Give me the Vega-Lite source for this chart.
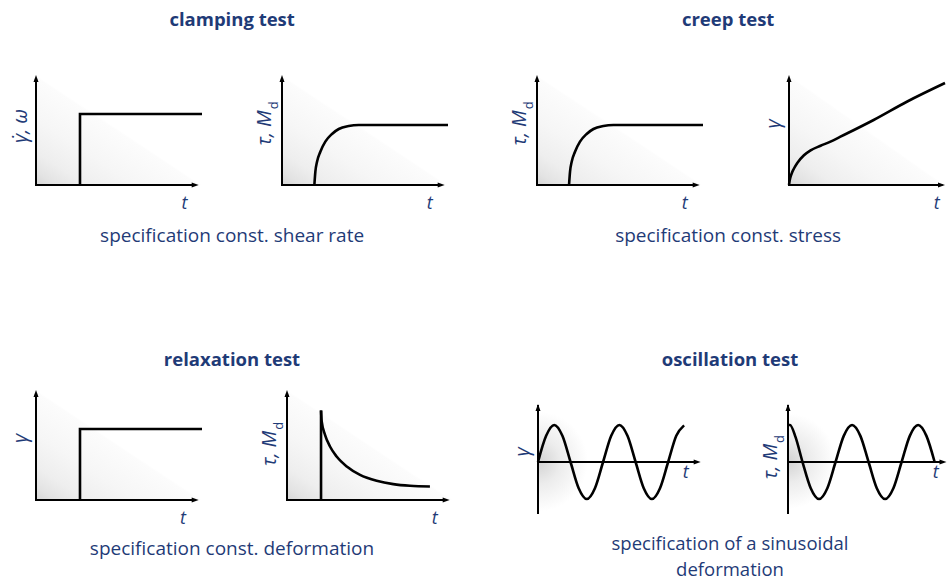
{
"$schema":"https://vega.github.io/schema/vega-lite/v6.json",
"autosize":{"type":"pad"},
"padding":{"left":10,"top":10,"right":0,"bottom":2},
"background":"#ffffff",
"config":{"view":{"stroke":null},"axis":{"disable":true}},
"datasets":{
"frame":[
{"panel":"p1","ylab":"\u03b3\u0307, \u03c9","ysub":"","xlab":"t"},
{"panel":"p2","ylab":"\u03c4, M","ysub":"d","xlab":"t"},
{"panel":"p3","ylab":"\u03c4, M","ysub":"d","xlab":"t"},
{"panel":"p4","ylab":"\u03b3","ysub":"","xlab":"t"},
{"panel":"p5","ylab":"\u03b3","ysub":"","xlab":"t"},
{"panel":"p6","ylab":"\u03c4, M","ysub":"d","xlab":"t"},
{"panel":"p7","ylab":"\u03b3","ysub":"","xlab":"t"},
{"panel":"p8","ylab":"\u03c4, M","ysub":"d","xlab":"t"}
],
"curves":[
{"panel":"p1","i":1,"t":0.265,"v":0},{"panel":"p1","i":2,"t":0.265,"v":0.645},{"panel":"p1","i":3,"t":1,"v":0.645},
{"panel":"p2","t":0.195,"v":0},{"panel":"p2","t":0.201,"v":0.121},{"panel":"p2","t":0.211,"v":0.212},{"panel":"p2","t":0.231,"v":0.303},{"panel":"p2","t":0.261,"v":0.394},{"panel":"p2","t":0.301,"v":0.464},{"panel":"p2","t":0.342,"v":0.509},{"panel":"p2","t":0.402,"v":0.536},{"panel":"p2","t":0.462,"v":0.545},{"panel":"p2","t":1,"v":0.545},
{"panel":"p3","t":0.193,"v":0},{"panel":"p3","t":0.199,"v":0.121},{"panel":"p3","t":0.209,"v":0.212},{"panel":"p3","t":0.229,"v":0.303},{"panel":"p3","t":0.259,"v":0.394},{"panel":"p3","t":0.299,"v":0.464},{"panel":"p3","t":0.34,"v":0.509},{"panel":"p3","t":0.4,"v":0.536},{"panel":"p3","t":0.46,"v":0.545},{"panel":"p3","t":1,"v":0.545},
{"panel":"p4","t":0,"v":0},{"panel":"p4","t":0.004,"v":0.04},{"panel":"p4","t":0.015,"v":0.1},{"panel":"p4","t":0.03,"v":0.15},{"panel":"p4","t":0.05,"v":0.2},{"panel":"p4","t":0.09,"v":0.27},{"panel":"p4","t":0.13,"v":0.315},{"panel":"p4","t":0.19,"v":0.357},{"panel":"p4","t":0.25,"v":0.394},{"panel":"p4","t":0.31,"v":0.439},{"panel":"p4","t":0.51,"v":0.591},{"panel":"p4","t":0.71,"v":0.757},{"panel":"p4","t":0.94,"v":0.927},
{"panel":"p5","i":1,"t":0.265,"v":0},{"panel":"p5","i":2,"t":0.265,"v":0.645},{"panel":"p5","i":3,"t":1,"v":0.645},
{"panel":"p6","seg":"a","t":0.205,"v":0},{"panel":"p6","seg":"a","t":0.205,"v":0.814},
{"panel":"p6","seg":"b","t":0.205,"v":0.814},{"panel":"p6","seg":"b","t":0.209,"v":0.714},{"panel":"p6","seg":"b","t":0.229,"v":0.593},{"panel":"p6","seg":"b","t":0.259,"v":0.486},{"panel":"p6","seg":"b","t":0.299,"v":0.395},{"panel":"p6","seg":"b","t":0.36,"v":0.305},{"panel":"p6","seg":"b","t":0.44,"v":0.229},{"panel":"p6","seg":"b","t":0.54,"v":0.175},{"panel":"p6","seg":"b","t":0.64,"v":0.144},{"panel":"p6","seg":"b","t":0.741,"v":0.129},{"panel":"p6","seg":"b","t":0.861,"v":0.123},
{"panel":"p7","t":0,"v":0},{"panel":"p7","t":0.049,"v":0.707},{"panel":"p7","t":0.098,"v":1},{"panel":"p7","t":0.147,"v":0.707},{"panel":"p7","t":0.196,"v":0},{"panel":"p7","t":0.245,"v":-0.707},{"panel":"p7","t":0.294,"v":-1},{"panel":"p7","t":0.343,"v":-0.707},{"panel":"p7","t":0.392,"v":0},{"panel":"p7","t":0.441,"v":0.707},{"panel":"p7","t":0.49,"v":1},{"panel":"p7","t":0.539,"v":0.707},{"panel":"p7","t":0.588,"v":0},{"panel":"p7","t":0.637,"v":-0.707},{"panel":"p7","t":0.686,"v":-1},{"panel":"p7","t":0.735,"v":-0.707},{"panel":"p7","t":0.784,"v":0},{"panel":"p7","t":0.833,"v":0.707},{"panel":"p7","t":0.88,"v":0.99},
{"panel":"p8","t":0,"v":1},{"panel":"p8","t":0.012,"v":1},{"panel":"p8","t":0.045,"v":0.68},{"panel":"p8","t":0.0875,"v":0},{"panel":"p8","t":0.137,"v":-0.707},{"panel":"p8","t":0.187,"v":-1},{"panel":"p8","t":0.237,"v":-0.707},{"panel":"p8","t":0.2865,"v":0},{"panel":"p8","t":0.336,"v":0.707},{"panel":"p8","t":0.386,"v":1},{"panel":"p8","t":0.436,"v":0.707},{"panel":"p8","t":0.4855,"v":0},{"panel":"p8","t":0.535,"v":-0.707},{"panel":"p8","t":0.585,"v":-1},{"panel":"p8","t":0.635,"v":-0.707},{"panel":"p8","t":0.6845,"v":0},{"panel":"p8","t":0.734,"v":0.707},{"panel":"p8","t":0.784,"v":1},{"panel":"p8","t":0.834,"v":0.707},{"panel":"p8","t":0.8835,"v":0}
]
},
"spacing":104,
"vconcat":[
{"spacing":56,"hconcat":[
{"title":{"text":"clamping test","anchor":"middle","offset":46,"font":"Open Sans","fontSize":18.5,"fontWeight":"bold","color":"#1f3b77"},
 "vconcat":[{"title":{"text":"specification const. shear rate","orient":"bottom","anchor":"middle","offset":14,"font":"Open Sans","fontSize":19,"fontWeight":"normal","color":"#1f3b77"},
 "spacing":47,"hconcat":[
 {"width":166,"height":110,"layer":[
  {"data":{"name":"frame"},"transform":[{"filter":"datum.panel=='p1'"}],"layer":[
   {"mark":{"type":"rect","fill":{"gradient":"linear","x1":0,"y1":1,"x2":1,"y2":0,"stops":[{"offset":0,"color":"#d6d6d6"},{"offset":0.06,"color":"#e3e3e3"},{"offset":0.15,"color":"#eeeeee"},{"offset":0.3,"color":"#f6f6f6"},{"offset":0.49,"color":"#fcfcfc"},{"offset":0.5,"color":"#ffffff"}]}},"encoding":{"x":{"datum":0,"scale":{"domain":[0,1],"nice":false}},"x2":{"datum":1},"y":{"datum":0,"scale":{"domain":[0,1],"nice":false}},"y2":{"datum":1}}},
   {"mark":{"type":"rule","color":"#000000","strokeWidth":2},"encoding":{"x":{"datum":0},"y":{"datum":0},"y2":{"datum":0.97}}},
   {"mark":{"type":"rule","color":"#000000","strokeWidth":2},"encoding":{"x":{"datum":-0.006},"x2":{"datum":0.96},"y":{"datum":0}}},
   {"mark":{"type":"point","shape":"M0,0L-1,2.8L1,2.8Z","size":25,"filled":true,"color":"#000000","opacity":1,"strokeWidth":0},"encoding":{"x":{"datum":0},"y":{"datum":1}}},
   {"mark":{"type":"point","shape":"M0,0L-2.8,-1L-2.8,1Z","size":25,"filled":true,"color":"#000000","opacity":1,"strokeWidth":0},"encoding":{"x":{"datum":0.98},"y":{"datum":0}}},
   {"mark":{"type":"text","font":"Open Sans","fontSize":18,"fontStyle":"italic","color":"#1f3b77","align":"center","baseline":"alphabetic","dy":24},"encoding":{"x":{"datum":0.895},"y":{"datum":0},"text":{"field":"xlab"}}},
   {"mark":{"type":"text","font":"Open Sans","fontSize":20,"fontStyle":"italic","color":"#1f3b77","angle":270,"align":"center","baseline":"alphabetic","dy":-9},"encoding":{"x":{"datum":0},"y":{"datum":0.536},"text":{"field":"ylab"}}}
  ]},
  {"data":{"name":"curves"},"transform":[{"filter":"datum.panel=='p1'"}],"mark":{"type":"line","color":"#000000","strokeWidth":2.6,"interpolate":"linear"},"encoding":{"x":{"field":"t","type":"quantitative","scale":{"domain":[0,1],"nice":false}},"y":{"field":"v","type":"quantitative","scale":{"domain":[0,1],"nice":false}},"order":{"field":"i"}}}
 ]},
 {"width":166,"height":110,"layer":[
  {"data":{"name":"frame"},"transform":[{"filter":"datum.panel=='p2'"}],"layer":[
   {"mark":{"type":"rect","fill":{"gradient":"linear","x1":0,"y1":1,"x2":1,"y2":0,"stops":[{"offset":0,"color":"#d6d6d6"},{"offset":0.06,"color":"#e3e3e3"},{"offset":0.15,"color":"#eeeeee"},{"offset":0.3,"color":"#f6f6f6"},{"offset":0.49,"color":"#fcfcfc"},{"offset":0.5,"color":"#ffffff"}]}},"encoding":{"x":{"datum":0,"scale":{"domain":[0,1],"nice":false}},"x2":{"datum":1},"y":{"datum":0,"scale":{"domain":[0,1],"nice":false}},"y2":{"datum":1}}},
   {"mark":{"type":"rule","color":"#000000","strokeWidth":2},"encoding":{"x":{"datum":0},"y":{"datum":0},"y2":{"datum":0.97}}},
   {"mark":{"type":"rule","color":"#000000","strokeWidth":2},"encoding":{"x":{"datum":-0.006},"x2":{"datum":0.96},"y":{"datum":0}}},
   {"mark":{"type":"point","shape":"M0,0L-1,2.8L1,2.8Z","size":25,"filled":true,"color":"#000000","opacity":1,"strokeWidth":0},"encoding":{"x":{"datum":0},"y":{"datum":1}}},
   {"mark":{"type":"point","shape":"M0,0L-2.8,-1L-2.8,1Z","size":25,"filled":true,"color":"#000000","opacity":1,"strokeWidth":0},"encoding":{"x":{"datum":0.98},"y":{"datum":0}}},
   {"mark":{"type":"text","font":"Open Sans","fontSize":18,"fontStyle":"italic","color":"#1f3b77","align":"center","baseline":"alphabetic","dy":24},"encoding":{"x":{"datum":0.89},"y":{"datum":0},"text":{"field":"xlab"}}},
   {"mark":{"type":"text","font":"Open Sans","fontSize":20,"fontStyle":"italic","color":"#1f3b77","angle":270,"align":"right","baseline":"alphabetic","dy":-11},"encoding":{"x":{"datum":0},"y":{"datum":0.68},"text":{"field":"ylab"}}},
   {"mark":{"type":"text","font":"Open Sans","fontSize":13,"color":"#1f3b77","angle":270,"align":"left","baseline":"alphabetic","dx":1,"dy":-4},"encoding":{"x":{"datum":0},"y":{"datum":0.68},"text":{"field":"ysub"}}}
  ]},
  {"data":{"name":"curves"},"transform":[{"filter":"datum.panel=='p2'"}],"mark":{"type":"line","color":"#000000","strokeWidth":2.6,"interpolate":"monotone"},"encoding":{"x":{"field":"t","type":"quantitative","scale":{"domain":[0,1],"nice":false}},"y":{"field":"v","type":"quantitative","scale":{"domain":[0,1],"nice":false}}}}
 ]}
 ]}]},
{"title":{"text":"creep test","anchor":"middle","offset":46,"font":"Open Sans","fontSize":18.5,"fontWeight":"bold","color":"#1f3b77"},
 "vconcat":[{"title":{"text":"specification const. stress","orient":"bottom","anchor":"middle","offset":14,"font":"Open Sans","fontSize":19,"fontWeight":"normal","color":"#1f3b77"},
 "spacing":55,"hconcat":[
 {"width":166,"height":110,"layer":[
  {"data":{"name":"frame"},"transform":[{"filter":"datum.panel=='p3'"}],"layer":[
   {"mark":{"type":"rect","fill":{"gradient":"linear","x1":0,"y1":1,"x2":1,"y2":0,"stops":[{"offset":0,"color":"#d6d6d6"},{"offset":0.06,"color":"#e3e3e3"},{"offset":0.15,"color":"#eeeeee"},{"offset":0.3,"color":"#f6f6f6"},{"offset":0.49,"color":"#fcfcfc"},{"offset":0.5,"color":"#ffffff"}]}},"encoding":{"x":{"datum":0,"scale":{"domain":[0,1],"nice":false}},"x2":{"datum":1},"y":{"datum":0,"scale":{"domain":[0,1],"nice":false}},"y2":{"datum":1}}},
   {"mark":{"type":"rule","color":"#000000","strokeWidth":2},"encoding":{"x":{"datum":0},"y":{"datum":0},"y2":{"datum":0.97}}},
   {"mark":{"type":"rule","color":"#000000","strokeWidth":2},"encoding":{"x":{"datum":-0.006},"x2":{"datum":0.96},"y":{"datum":0}}},
   {"mark":{"type":"point","shape":"M0,0L-1,2.8L1,2.8Z","size":25,"filled":true,"color":"#000000","opacity":1,"strokeWidth":0},"encoding":{"x":{"datum":0},"y":{"datum":1}}},
   {"mark":{"type":"point","shape":"M0,0L-2.8,-1L-2.8,1Z","size":25,"filled":true,"color":"#000000","opacity":1,"strokeWidth":0},"encoding":{"x":{"datum":0.98},"y":{"datum":0}}},
   {"mark":{"type":"text","font":"Open Sans","fontSize":18,"fontStyle":"italic","color":"#1f3b77","align":"center","baseline":"alphabetic","dy":24},"encoding":{"x":{"datum":0.89},"y":{"datum":0},"text":{"field":"xlab"}}},
   {"mark":{"type":"text","font":"Open Sans","fontSize":20,"fontStyle":"italic","color":"#1f3b77","angle":270,"align":"right","baseline":"alphabetic","dy":-11},"encoding":{"x":{"datum":0},"y":{"datum":0.68},"text":{"field":"ylab"}}},
   {"mark":{"type":"text","font":"Open Sans","fontSize":13,"color":"#1f3b77","angle":270,"align":"left","baseline":"alphabetic","dx":1,"dy":-4},"encoding":{"x":{"datum":0},"y":{"datum":0.68},"text":{"field":"ysub"}}}
  ]},
  {"data":{"name":"curves"},"transform":[{"filter":"datum.panel=='p3'"}],"mark":{"type":"line","color":"#000000","strokeWidth":2.6,"interpolate":"monotone"},"encoding":{"x":{"field":"t","type":"quantitative","scale":{"domain":[0,1],"nice":false}},"y":{"field":"v","type":"quantitative","scale":{"domain":[0,1],"nice":false}}}}
 ]},
 {"width":156,"height":110,"layer":[
  {"data":{"name":"frame"},"transform":[{"filter":"datum.panel=='p4'"}],"layer":[
   {"mark":{"type":"rect","fill":{"gradient":"linear","x1":0,"y1":1,"x2":1,"y2":0,"stops":[{"offset":0,"color":"#d6d6d6"},{"offset":0.06,"color":"#e3e3e3"},{"offset":0.15,"color":"#eeeeee"},{"offset":0.3,"color":"#f6f6f6"},{"offset":0.49,"color":"#fcfcfc"},{"offset":0.5,"color":"#ffffff"}]}},"encoding":{"x":{"datum":0,"scale":{"domain":[0,0.94],"nice":false}},"x2":{"datum":0.94},"y":{"datum":0,"scale":{"domain":[0,1],"nice":false}},"y2":{"datum":1}}},
   {"mark":{"type":"rule","color":"#000000","strokeWidth":2},"encoding":{"x":{"datum":0},"y":{"datum":0},"y2":{"datum":0.97}}},
   {"mark":{"type":"rule","color":"#000000","strokeWidth":2},"encoding":{"x":{"datum":-0.006},"x2":{"datum":0.925},"y":{"datum":0}}},
   {"mark":{"type":"point","shape":"M0,0L-1,2.8L1,2.8Z","size":25,"filled":true,"color":"#000000","opacity":1,"strokeWidth":0},"encoding":{"x":{"datum":0},"y":{"datum":1}}},
   {"mark":{"type":"point","shape":"M0,0L-2.8,-1L-2.8,1Z","size":25,"filled":true,"color":"#000000","opacity":1,"strokeWidth":0},"encoding":{"x":{"datum":0.94},"y":{"datum":0}}},
   {"mark":{"type":"text","font":"Open Sans","fontSize":18,"fontStyle":"italic","color":"#1f3b77","align":"center","baseline":"alphabetic","dy":24},"encoding":{"x":{"datum":0.89},"y":{"datum":0},"text":{"field":"xlab"}}},
   {"mark":{"type":"text","font":"Open Sans","fontSize":20,"fontStyle":"italic","color":"#1f3b77","angle":270,"align":"center","baseline":"alphabetic","dy":-9},"encoding":{"x":{"datum":0},"y":{"datum":0.555},"text":{"field":"ylab"}}}
  ]},
  {"data":{"name":"curves"},"transform":[{"filter":"datum.panel=='p4'"}],"mark":{"type":"line","color":"#000000","strokeWidth":2.6,"strokeJoin":"round","interpolate":"monotone"},"encoding":{"x":{"field":"t","type":"quantitative","scale":{"domain":[0,0.94],"nice":false}},"y":{"field":"v","type":"quantitative","scale":{"domain":[0,1],"nice":false}}}}
 ]}
 ]}]}
]},
{"spacing":60,"hconcat":[
{"title":{"text":"relaxation test","anchor":"middle","offset":21,"font":"Open Sans","fontSize":18.5,"fontWeight":"bold","color":"#1f3b77"},
 "vconcat":[{"title":{"text":"specification const. deformation","orient":"bottom","anchor":"middle","offset":12,"font":"Open Sans","fontSize":19,"fontWeight":"normal","color":"#1f3b77"},
 "spacing":52,"hconcat":[
 {"width":166,"height":110,"layer":[
  {"data":{"name":"frame"},"transform":[{"filter":"datum.panel=='p5'"}],"layer":[
   {"mark":{"type":"rect","fill":{"gradient":"linear","x1":0,"y1":1,"x2":1,"y2":0,"stops":[{"offset":0,"color":"#d6d6d6"},{"offset":0.06,"color":"#e3e3e3"},{"offset":0.15,"color":"#eeeeee"},{"offset":0.3,"color":"#f6f6f6"},{"offset":0.49,"color":"#fcfcfc"},{"offset":0.5,"color":"#ffffff"}]}},"encoding":{"x":{"datum":0,"scale":{"domain":[0,1],"nice":false}},"x2":{"datum":1},"y":{"datum":0,"scale":{"domain":[0,1],"nice":false}},"y2":{"datum":1}}},
   {"mark":{"type":"rule","color":"#000000","strokeWidth":2},"encoding":{"x":{"datum":0},"y":{"datum":0},"y2":{"datum":0.97}}},
   {"mark":{"type":"rule","color":"#000000","strokeWidth":2},"encoding":{"x":{"datum":-0.006},"x2":{"datum":0.96},"y":{"datum":0}}},
   {"mark":{"type":"point","shape":"M0,0L-1,2.8L1,2.8Z","size":25,"filled":true,"color":"#000000","opacity":1,"strokeWidth":0},"encoding":{"x":{"datum":0},"y":{"datum":1}}},
   {"mark":{"type":"point","shape":"M0,0L-2.8,-1L-2.8,1Z","size":25,"filled":true,"color":"#000000","opacity":1,"strokeWidth":0},"encoding":{"x":{"datum":0.98},"y":{"datum":0}}},
   {"mark":{"type":"text","font":"Open Sans","fontSize":18,"fontStyle":"italic","color":"#1f3b77","align":"center","baseline":"alphabetic","dy":23.5},"encoding":{"x":{"datum":0.885},"y":{"datum":0},"text":{"field":"xlab"}}},
   {"mark":{"type":"text","font":"Open Sans","fontSize":20,"fontStyle":"italic","color":"#1f3b77","angle":270,"align":"center","baseline":"alphabetic","dy":-9},"encoding":{"x":{"datum":0},"y":{"datum":0.56},"text":{"field":"ylab"}}}
  ]},
  {"data":{"name":"curves"},"transform":[{"filter":"datum.panel=='p5'"}],"mark":{"type":"line","color":"#000000","strokeWidth":2.6,"interpolate":"linear"},"encoding":{"x":{"field":"t","type":"quantitative","scale":{"domain":[0,1],"nice":false}},"y":{"field":"v","type":"quantitative","scale":{"domain":[0,1],"nice":false}},"order":{"field":"i"}}}
 ]},
 {"width":166,"height":110,"layer":[
  {"data":{"name":"frame"},"transform":[{"filter":"datum.panel=='p6'"}],"layer":[
   {"mark":{"type":"rect","fill":{"gradient":"linear","x1":0,"y1":1,"x2":1,"y2":0,"stops":[{"offset":0,"color":"#d6d6d6"},{"offset":0.06,"color":"#e3e3e3"},{"offset":0.15,"color":"#eeeeee"},{"offset":0.3,"color":"#f6f6f6"},{"offset":0.49,"color":"#fcfcfc"},{"offset":0.5,"color":"#ffffff"}]}},"encoding":{"x":{"datum":0,"scale":{"domain":[0,1],"nice":false}},"x2":{"datum":1},"y":{"datum":0,"scale":{"domain":[0,1],"nice":false}},"y2":{"datum":1}}},
   {"mark":{"type":"rule","color":"#000000","strokeWidth":2},"encoding":{"x":{"datum":0},"y":{"datum":0},"y2":{"datum":0.97}}},
   {"mark":{"type":"rule","color":"#000000","strokeWidth":2},"encoding":{"x":{"datum":-0.006},"x2":{"datum":0.96},"y":{"datum":0}}},
   {"mark":{"type":"point","shape":"M0,0L-1,2.8L1,2.8Z","size":25,"filled":true,"color":"#000000","opacity":1,"strokeWidth":0},"encoding":{"x":{"datum":0},"y":{"datum":1}}},
   {"mark":{"type":"point","shape":"M0,0L-2.8,-1L-2.8,1Z","size":25,"filled":true,"color":"#000000","opacity":1,"strokeWidth":0},"encoding":{"x":{"datum":0.98},"y":{"datum":0}}},
   {"mark":{"type":"text","font":"Open Sans","fontSize":18,"fontStyle":"italic","color":"#1f3b77","align":"center","baseline":"alphabetic","dy":23.5},"encoding":{"x":{"datum":0.89},"y":{"datum":0},"text":{"field":"xlab"}}},
   {"mark":{"type":"text","font":"Open Sans","fontSize":20,"fontStyle":"italic","color":"#1f3b77","angle":270,"align":"right","baseline":"alphabetic","dy":-11},"encoding":{"x":{"datum":0},"y":{"datum":0.63},"text":{"field":"ylab"}}},
   {"mark":{"type":"text","font":"Open Sans","fontSize":13,"color":"#1f3b77","angle":270,"align":"left","baseline":"alphabetic","dx":1,"dy":-4},"encoding":{"x":{"datum":0},"y":{"datum":0.63},"text":{"field":"ysub"}}}
  ]},
  {"data":{"name":"curves"},"transform":[{"filter":"datum.panel=='p6'"}],"mark":{"type":"line","color":"#000000","strokeWidth":2.6,"interpolate":"monotone"},"encoding":{"x":{"field":"t","type":"quantitative","scale":{"domain":[0,1],"nice":false}},"y":{"field":"v","type":"quantitative","scale":{"domain":[0,1],"nice":false}},"detail":{"field":"seg"}}}
 ]}
 ]}]},
{"title":{"text":"oscillation test","anchor":"middle","offset":21,"font":"Open Sans","fontSize":18.5,"fontWeight":"bold","color":"#1f3b77"},
 "vconcat":[{"title":{"text":["specification of a sinusoidal","deformation"],"orient":"bottom","anchor":"middle","offset":20,"lineHeight":25.5,"font":"Open Sans","fontSize":18.5,"fontWeight":"normal","color":"#1f3b77"},
 "spacing":57,"hconcat":[
 {"width":166,"height":124,"layer":[
  {"data":{"name":"frame"},"transform":[{"filter":"datum.panel=='p7'"}],"layer":[
   {"mark":{"type":"rect","fill":{"gradient":"radial","x1":0,"y1":0.557,"r1":0,"x2":0,"y2":0.557,"r2":0.3,"stops":[{"offset":0,"color":"#d2d2d2"},{"offset":0.45,"color":"#ececec"},{"offset":1,"color":"#ffffff"}]}},"encoding":{"x":{"datum":0,"scale":{"domain":[0,1],"nice":false}},"x2":{"datum":1},"y":{"datum":-1.405,"scale":{"domain":[-1.405,1.946],"nice":false}},"y2":{"datum":1.946}}},
   {"mark":{"type":"rule","color":"#000000","strokeWidth":2},"encoding":{"x":{"datum":0},"y":{"datum":-1.405},"y2":{"datum":1.54}}},
   {"mark":{"type":"rule","color":"#000000","strokeWidth":2},"encoding":{"x":{"datum":-0.006},"x2":{"datum":0.96},"y":{"datum":0}}},
   {"mark":{"type":"point","shape":"M0,0L-1,2.8L1,2.8Z","size":25,"filled":true,"color":"#000000","opacity":1,"strokeWidth":0},"encoding":{"x":{"datum":0},"y":{"datum":1.568}}},
   {"mark":{"type":"point","shape":"M0,0L-2.8,-1L-2.8,1Z","size":25,"filled":true,"color":"#000000","opacity":1,"strokeWidth":0},"encoding":{"x":{"datum":0.98},"y":{"datum":0}}},
   {"mark":{"type":"text","font":"Open Sans","fontSize":18,"fontStyle":"italic","color":"#1f3b77","align":"center","baseline":"alphabetic","dy":16},"encoding":{"x":{"datum":0.89},"y":{"datum":0},"text":{"field":"xlab"}}},
   {"mark":{"type":"text","font":"Open Sans","fontSize":20,"fontStyle":"italic","color":"#1f3b77","angle":270,"align":"center","baseline":"alphabetic","dy":-9},"encoding":{"x":{"datum":0},"y":{"datum":0.27},"text":{"field":"ylab"}}}
  ]},
  {"data":{"name":"curves"},"transform":[{"filter":"datum.panel=='p7'"}],"mark":{"type":"line","color":"#000000","strokeWidth":2.6,"interpolate":"monotone"},"encoding":{"x":{"field":"t","type":"quantitative","scale":{"domain":[0,1],"nice":false}},"y":{"field":"v","type":"quantitative","scale":{"domain":[-1.405,1.946],"nice":false}}}}
 ]},
 {"width":159,"height":124,"layer":[
  {"data":{"name":"frame"},"transform":[{"filter":"datum.panel=='p8'"}],"layer":[
   {"mark":{"type":"rect","fill":{"gradient":"radial","x1":0,"y1":0.557,"r1":0,"x2":0,"y2":0.557,"r2":0.3,"stops":[{"offset":0,"color":"#d2d2d2"},{"offset":0.45,"color":"#ececec"},{"offset":1,"color":"#ffffff"}]}},"encoding":{"x":{"datum":0,"scale":{"domain":[0,0.958],"nice":false}},"x2":{"datum":0.958},"y":{"datum":-1.405,"scale":{"domain":[-1.405,1.946],"nice":false}},"y2":{"datum":1.946}}},
   {"mark":{"type":"rule","color":"#000000","strokeWidth":2},"encoding":{"x":{"datum":0},"y":{"datum":-1.405},"y2":{"datum":1.54}}},
   {"mark":{"type":"rule","color":"#000000","strokeWidth":2},"encoding":{"x":{"datum":-0.006},"x2":{"datum":0.93},"y":{"datum":0}}},
   {"mark":{"type":"point","shape":"M0,0L-1,2.8L1,2.8Z","size":25,"filled":true,"color":"#000000","opacity":1,"strokeWidth":0},"encoding":{"x":{"datum":0},"y":{"datum":1.568}}},
   {"mark":{"type":"point","shape":"M0,0L-2.8,-1L-2.8,1Z","size":25,"filled":true,"color":"#000000","opacity":1,"strokeWidth":0},"encoding":{"x":{"datum":0.955},"y":{"datum":0}}},
   {"mark":{"type":"text","font":"Open Sans","fontSize":18,"fontStyle":"italic","color":"#1f3b77","align":"center","baseline":"alphabetic","dy":16},"encoding":{"x":{"datum":0.89},"y":{"datum":0},"text":{"field":"xlab"}}},
   {"mark":{"type":"text","font":"Open Sans","fontSize":20,"fontStyle":"italic","color":"#1f3b77","angle":270,"align":"right","baseline":"alphabetic","dy":-11},"encoding":{"x":{"datum":0},"y":{"datum":0.49},"text":{"field":"ylab"}}},
   {"mark":{"type":"text","font":"Open Sans","fontSize":13,"color":"#1f3b77","angle":270,"align":"left","baseline":"alphabetic","dx":1,"dy":-4},"encoding":{"x":{"datum":0},"y":{"datum":0.49},"text":{"field":"ysub"}}}
  ]},
  {"data":{"name":"curves"},"transform":[{"filter":"datum.panel=='p8'"}],"mark":{"type":"line","color":"#000000","strokeWidth":2.6,"interpolate":"monotone"},"encoding":{"x":{"field":"t","type":"quantitative","scale":{"domain":[0,0.958],"nice":false}},"y":{"field":"v","type":"quantitative","scale":{"domain":[-1.405,1.946],"nice":false}}}}
 ]}
 ]}]}
]}
]
}
